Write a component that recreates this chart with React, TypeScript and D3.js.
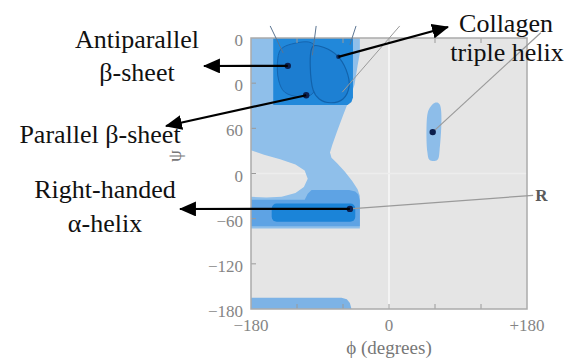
import React, { useRef, useEffect } from "react";
import * as d3 from "d3";

// axis ticks
const phiTicks = [-180, 0, 180];
const phiTickLabels = ["\u2212180", "0", "+180"];
const psiTicks = [180, 120, 60, 0, -60, -120, -180];
const psiTickLabels = ["180", "120", "60", "0", "\u221260", "\u2212120", "\u2212180"];
const minorTicks = [-120, -60, 0, 60, 120];

// allowed regions, [phi, psi] outlines
const allowedRegion = [
  [-180, 180], [-38, 180], [-38, 160], [-41, 143], [-45, 118], [-52, 98], [-60, 77],
  [-68, 55], [-74, 38], [-77, 28], [-75, 21], [-68, 14], [-58, 3], [-48, -10], [-41, -21],
  [-38, -30], [-38, -73], [-180, -73], [-180, -31], [-160, -32], [-140, -31], [-122, -26],
  [-111, -18], [-106, -7], [-110, 4], [-122, 12], [-142, 19], [-163, 25], [-180, 31],
];
const helixRegion = [
  [-180, -35], [-110, -35], [-106, -27], [-101, -22], [-52, -22], [-44, -24], [-40, -28],
  [-38, -36], [-38, -70], [-180, -70],
];
const bottomStrip = [
  [-180, -165], [-62, -165], [-55, -167], [-51, -172], [-49, -180], [-180, -180],
];
const betaCore = [
  [-151, 180], [-47, 180], [-47, 101], [-49, 95], [-54, 91], [-151, 91],
];
const antiparallelLobe = [
  [-145, 153], [-141, 165], [-127, 172], [-99, 172], [-99, 107], [-116, 102], [-136, 108], [-144, 124],
];
const collagenLobe = [
  [-99, 169], [-84, 167], [-67, 156], [-56, 138], [-52, 116], [-60, 99], [-76, 94], [-91, 99], [-99, 111],
];
const leftHandedRegion = [
  [53, 87], [60, 94], [66, 92], [66, 31], [63, 18], [53, 18], [50, 29], [50, 78],
];
const helixCorePhi = [-153, -44];
const helixCorePsi = [-64, -40];

// structure centres [phi, psi]
const antiparallel = [-132, 143];
const parallel = [-108, 104];
const collagen = [-66, 155];
const alphaR = [-51, -47];
const alphaL = [57, 55];

// thin leader lines that leave the top of the frame
const leaders = [
  [[-138, 160], [-155, 196]],
  [[-100, 157], [-95, 196]],
  [[-51, 171], [-43, 196]],
  [[-61, 108], [14, 196]],
];
const lLeader = [alphaL, [198, 187]];
const rLeader = [alphaR, [188, -29]];

const App = () => {
  const svgRef = useRef(null);
  const width = 579;
  const height = 358;

  useEffect(() => {
    const svg = d3.select(svgRef.current);
    svg.selectAll("*").remove();

    const x = d3.scaleLinear().domain([-180, 180]).range([251, 527]);
    const y = d3.scaleLinear().domain([-180, 180]).range([309, 38]);
    const serif = "Liberation Serif, Times New Roman, DejaVu Serif, serif";

    const defs = svg.append("defs");
    defs.append("clipPath").attr("id", "plotClip")
      .append("rect")
      .attr("x", x(-180)).attr("y", y(180))
      .attr("width", x(180) - x(-180)).attr("height", y(-180) - y(180));
    defs.append("marker")
      .attr("id", "head")
      .attr("viewBox", "0 0 16 14")
      .attr("refX", 15).attr("refY", 7)
      .attr("markerWidth", 17).attr("markerHeight", 15)
      .attr("markerUnits", "userSpaceOnUse")
      .attr("orient", "auto")
      .append("path").attr("d", "M0,0 L16,7 L0,14 Z").attr("fill", "black");

    const line = d3.line().x((d) => x(d[0])).y((d) => y(d[1]));
    const poly = d3.line().x((d) => x(d[0])).y((d) => y(d[1])).curve(d3.curveLinearClosed);
    const smooth = d3.line().x((d) => x(d[0])).y((d) => y(d[1])).curve(d3.curveCatmullRomClosed.alpha(0.5));

    // plot background
    svg.append("rect")
      .attr("x", x(-180)).attr("y", y(180))
      .attr("width", x(180) - x(-180)).attr("height", y(-180) - y(180))
      .attr("fill", "#e5e5e5");

    const plot = svg.append("g").attr("clip-path", "url(#plotClip)");
    plot.append("line")
      .attr("x1", x(0)).attr("x2", x(0)).attr("y1", y(180)).attr("y2", y(-180))
      .attr("stroke", "#f4f4f4").attr("stroke-width", 2);
    plot.append("line")
      .attr("x1", x(-180)).attr("x2", x(180)).attr("y1", y(0)).attr("y2", y(0))
      .attr("stroke", "#ededed").attr("stroke-width", 1.5);

    plot.append("path").attr("d", poly(allowedRegion)).attr("fill", "#8fbfea");
    plot.append("path").attr("d", poly(bottomStrip)).attr("fill", "#7db3e6");
    plot.append("path").attr("d", poly(helixRegion)).attr("fill", "#5ea3e4");
    plot.append("rect")
      .attr("x", x(helixCorePhi[0])).attr("y", y(helixCorePsi[1]))
      .attr("width", x(helixCorePhi[1]) - x(helixCorePhi[0]))
      .attr("height", y(helixCorePsi[0]) - y(helixCorePsi[1]))
      .attr("rx", 5)
      .attr("fill", "#1b84d8");
    plot.append("path").attr("d", poly(betaCore)).attr("fill", "#2188da");
    plot.append("path").attr("d", smooth(antiparallelLobe))
      .attr("fill", "#1c7dd0").attr("stroke", "#1565b0").attr("stroke-width", 1);
    plot.append("path").attr("d", smooth(collagenLobe))
      .attr("fill", "#1d80d3").attr("stroke", "#1262ab").attr("stroke-width", 1.2);
    plot.append("path").attr("d", smooth(leftHandedRegion)).attr("fill", "#8dbde9");

    // ticks inside the frame
    const tickG = svg.append("g").attr("stroke", "#9a9a9a").attr("stroke-width", 1);
    minorTicks.forEach((t) => {
      tickG.append("line").attr("x1", x(t)).attr("x2", x(t)).attr("y1", y(-180)).attr("y2", y(-180) - 5);
      tickG.append("line").attr("x1", x(t)).attr("x2", x(t)).attr("y1", y(180)).attr("y2", y(180) + 5);
      tickG.append("line").attr("x1", x(-180)).attr("x2", x(-180) + 5).attr("y1", y(t)).attr("y2", y(t));
    });

    // frame
    svg.append("rect")
      .attr("x", x(-180)).attr("y", y(180))
      .attr("width", x(180) - x(-180)).attr("height", y(-180) - y(180))
      .attr("fill", "none").attr("stroke", "#ababab").attr("stroke-width", 1.5);

    // tick labels
    svg.append("g").selectAll("text").data(phiTicks).join("text")
      .attr("x", (d) => x(d)).attr("y", 331)
      .attr("text-anchor", "middle")
      .style("font-family", serif).attr("font-size", 17).attr("fill", "#858585")
      .text((d, i) => phiTickLabels[i]);
    svg.append("g").selectAll("text").data(psiTicks).join("text")
      .attr("x", 243).attr("y", (d) => y(d) + 8)
      .attr("text-anchor", "end")
      .style("font-family", serif).attr("font-size", 17).attr("fill", "#858585")
      .text((d, i) => psiTickLabels[i]);

    svg.append("text")
      .attr("x", x(0)).attr("y", 354)
      .attr("text-anchor", "middle")
      .style("font-family", serif).attr("font-size", 19).attr("fill", "#777")
      .text("\u03d5 (degrees)");
    svg.append("text")
      .attr("transform", `translate(181,156) rotate(-90)`)
      .attr("text-anchor", "middle")
      .style("font-family", serif).attr("font-size", 19).attr("fill", "#777")
      .text("\u03c8");

    // leader lines of the original figure
    leaders.forEach((l, i) => {
      svg.append("path").attr("d", line(l))
        .attr("fill", "none")
        .attr("stroke", i === 3 ? "#9a9a9a" : "#5b7592")
        .attr("stroke-width", 1);
    });
    svg.append("path").attr("d", line(lLeader)).attr("fill", "none").attr("stroke", "#9a9a9a").attr("stroke-width", 1.2);
    svg.append("path").attr("d", line(rLeader)).attr("fill", "none").attr("stroke", "#9a9a9a").attr("stroke-width", 1.2);
    svg.append("text")
      .attr("x", x(188) + 2).attr("y", y(-29) + 6)
      .style("font-family", serif).attr("font-size", 17).attr("font-weight", "bold").attr("fill", "#5a5a5a")
      .text("R");

    // white label panel over the clipped tick labels
    svg.append("rect").attr("x", 60).attr("y", 18).attr("width", 174).attr("height", 82).attr("fill", "white");

    // structure dots
    [antiparallel, parallel, alphaR, alphaL].forEach((d) => {
      svg.append("circle").attr("cx", x(d[0])).attr("cy", y(d[1])).attr("r", 3.2).attr("fill", "#0b1e4d");
    });
    svg.append("circle").attr("cx", x(collagen[0])).attr("cy", y(collagen[1])).attr("r", 2.2).attr("fill", "#0b2a5e");

    // arrows to labels
    const arrows = [
      { from: antiparallel, tip: [204, 66] },
      { from: parallel, tip: [166, 126] },
      { from: collagen, tip: [448, 27] },
      { from: alphaR, tip: [180, 209] },
    ];
    arrows.forEach((a) => {
      svg.append("line")
        .attr("x1", x(a.from[0])).attr("y1", y(a.from[1]))
        .attr("x2", a.tip[0]).attr("y2", a.tip[1])
        .attr("stroke", "black").attr("stroke-width", 2.2)
        .attr("marker-end", "url(#head)");
    });

    const labels = [
      { text: "Antiparallel", x: 137, y: 48 },
      { text: "\u03b2-sheet", x: 137, y: 81 },
      { text: "Parallel \u03b2-sheet", x: 100, y: 143 },
      { text: "Right-handed", x: 105, y: 198 },
      { text: "\u03b1-helix", x: 105, y: 232 },
      { text: "Collagen", x: 506, y: 32 },
      { text: "triple helix", x: 507, y: 61 },
    ];
    svg.append("g").selectAll("text").data(labels).join("text")
      .attr("x", (d) => d.x).attr("y", (d) => d.y)
      .attr("text-anchor", "middle")
      .style("font-family", serif).attr("font-size", 26).attr("fill", "#111")
      .text((d) => d.text);
  }, []);

  return (
    <div>
      <svg ref={svgRef} width={width} height={height} style={{ position: "absolute", left: 0, top: 0 }} />
    </div>
  );
};

export default App;
